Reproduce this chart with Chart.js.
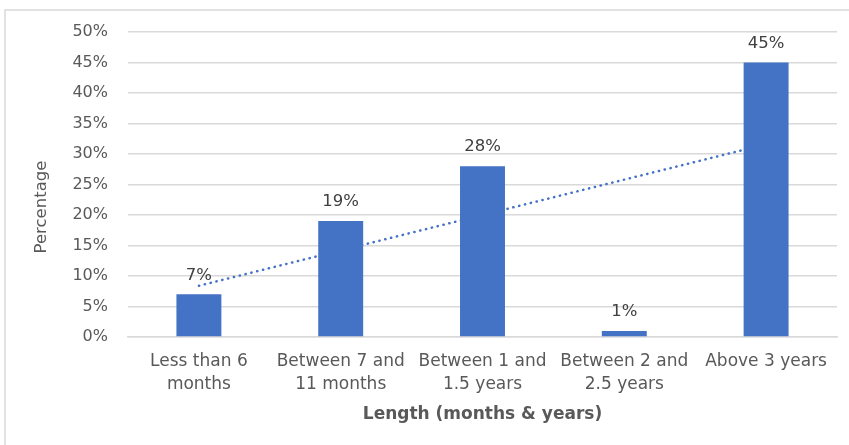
<!DOCTYPE html>
<html>
<head>
<meta charset="utf-8">
<script src="https://cdn.jsdelivr.net/npm/chart.js@4.4.1/dist/chart.umd.min.js"></script>
<style>
  html, body { margin: 0; padding: 0; background: #ffffff; }
  #wrap { width: 849px; height: 445px; position: relative; }
</style>
</head>
<body>
<div id="wrap"><canvas id="chart"></canvas></div>
<script>
// Share of respondents by length of time
const categories = [
  ['Less than 6', 'months'],
  ['Between 7 and', '11 months'],
  ['Between 1 and', '1.5 years'],
  ['Between 2 and', '2.5 years'],
  'Above 3 years'
];
const percentages = [7, 19, 28, 1, 45];
// Linear trendline: value at the first and at the last category
const trendEnds = [8.4, 31.6];
const yTicks = [0, 5, 10, 15, 20, 25, 30, 35, 40, 45, 50];

const FONT = '"DejaVu Sans", "Open Sans", sans-serif';
const BLUE = '#4472C4';
const GRID = '#d9d9d9';

const trendData = categories.map((_, i) =>
  i === 0 ? trendEnds[0] : (i === categories.length - 1 ? trendEnds[1] : null));

// Outer frame, value labels and the vertical axis title
const decor = {
  id: 'decor',
  beforeDraw(chart) {
    const ctx = chart.ctx;
    ctx.save();
    ctx.fillStyle = '#ffffff';
    ctx.fillRect(0, 0, chart.width, chart.height);
    ctx.strokeStyle = GRID;
    ctx.lineWidth = 1.5;
    ctx.beginPath();
    ctx.moveTo(5, chart.height);
    ctx.lineTo(5, 10);
    ctx.lineTo(chart.width, 10);
    ctx.stroke();
    ctx.restore();
  },
  afterDatasetsDraw(chart) {
    const ctx = chart.ctx;
    const meta = chart.getDatasetMeta(0);
    ctx.save();
    ctx.fillStyle = '#404040';
    ctx.font = '16.5px ' + FONT;
    ctx.textAlign = 'center';
    ctx.textBaseline = 'middle';
    meta.data.forEach((bar, i) => {
      ctx.fillText(percentages[i] + '%', bar.x, bar.y - 19);
    });
    // y-axis title
    ctx.fillStyle = '#595959';
    ctx.font = '16.5px ' + FONT;
    ctx.translate(42, 207);
    ctx.rotate(-Math.PI / 2);
    ctx.fillText('Percentage', 0, 0);
    ctx.restore();
  }
};

new Chart(document.getElementById('chart'), {
  type: 'bar',
  data: {
    labels: categories,
    datasets: [
      {
        label: 'Percentage',
        data: percentages,
        backgroundColor: BLUE,
        borderWidth: 0,
        categoryPercentage: 1,
        barPercentage: 0.317,
        order: 1
      },
      {
        type: 'line',
        label: 'Linear trend',
        data: trendData,
        spanGaps: true,
        borderColor: BLUE,
        borderWidth: 2.5,
        borderDash: [0.3, 5.7],
        borderCapStyle: 'round',
        pointRadius: 0,
        fill: false,
        order: 2
      }
    ]
  },
  options: {
    responsive: true,
    maintainAspectRatio: false,
    animation: false,
    devicePixelRatio: 1,
    layout: { padding: { top: 32, right: 12, left: 0, bottom: 0 } },
    plugins: {
      legend: { display: false },
      tooltip: { enabled: false }
    },
    scales: {
      x: {
        afterFit(scale) { scale.height = 108; },
        grid: { display: false, drawTicks: false },
        border: { display: true, color: GRID, width: 1.5 },
        ticks: {
          color: '#595959',
          font: { family: FONT, size: 17, lineHeight: 1.3 },
          padding: 14,
          maxRotation: 0,
          autoSkip: false
        },
        title: {
          display: true,
          text: 'Length (months & years)',
          color: '#595959',
          font: { family: FONT, size: 17, weight: 'bold', lineHeight: 1.2 },
          padding: { top: 0, bottom: 20 }
        }
      },
      y: {
        min: 0,
        max: 50,
        afterFit(scale) { scale.width = 128; },
        afterBuildTicks(scale) { scale.ticks = yTicks.map(v => ({ value: v })); },
        grid: { color: GRID, lineWidth: 1.5, drawTicks: false },
        border: { display: false },
        ticks: {
          color: '#595959',
          font: { family: FONT, size: 16 },
          padding: 20,
          callback: v => v + '%'
        },
        title: { display: false }
      }
    }
  },
  plugins: [decor]
});
</script>
</body>
</html>
